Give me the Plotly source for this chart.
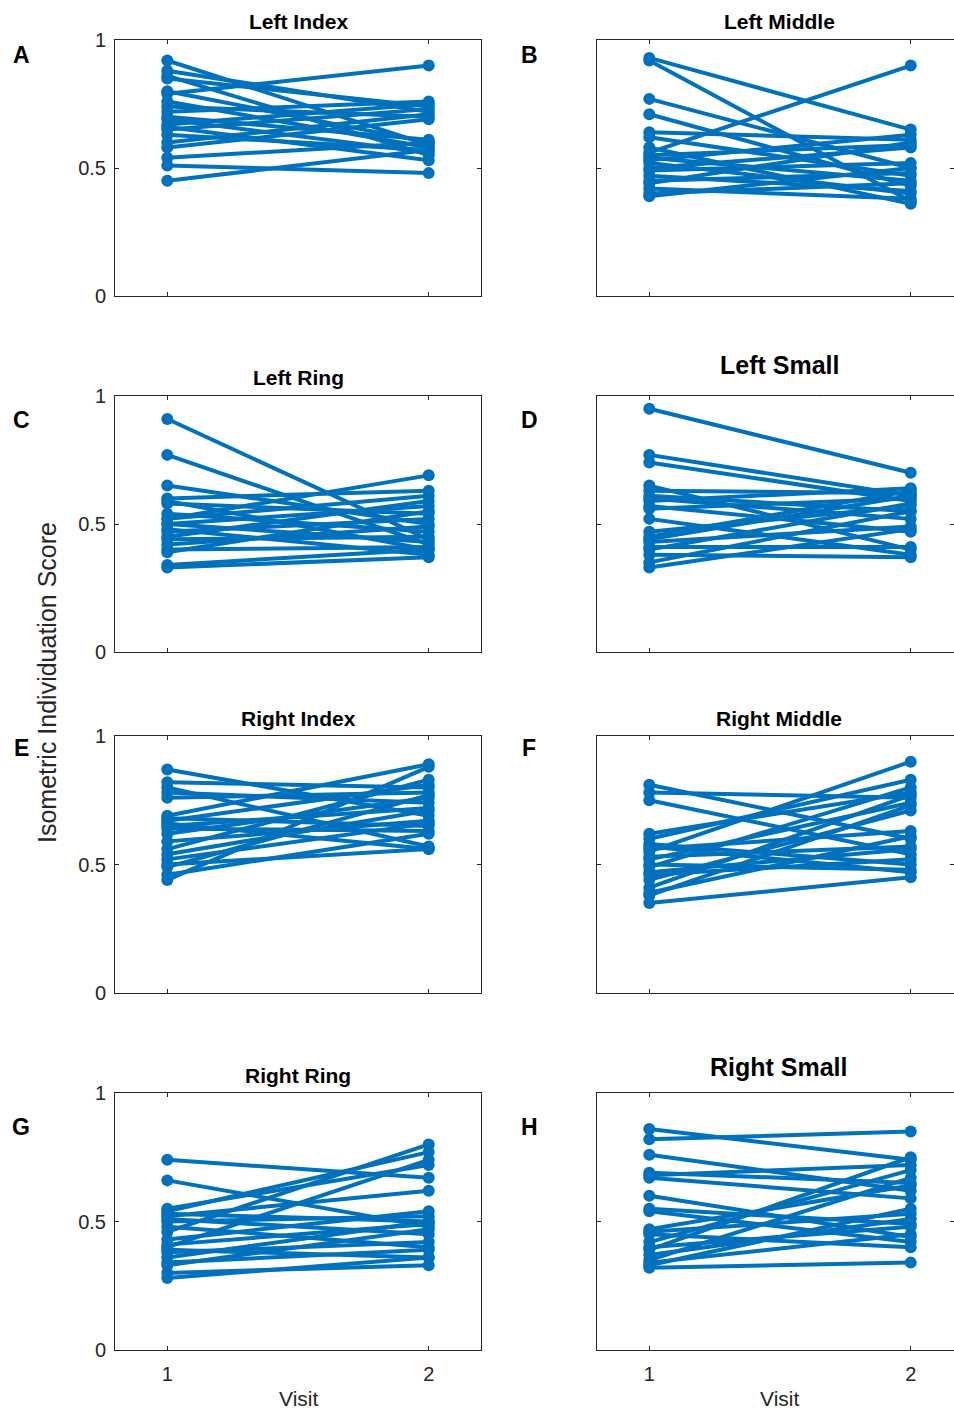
import plotly.graph_objects as go

# Individuation scores per subject: visit 1 and visit 2 values for each finger
visits = [1, 2]

left_index_v1 = [0.92, 0.88, 0.86, 0.85, 0.80, 0.79, 0.76, 0.74, 0.72, 0.70,
                 0.69, 0.67, 0.66, 0.65, 0.63, 0.60, 0.58, 0.54, 0.51, 0.45]
left_index_v2 = [0.59, 0.72, 0.55, 0.74, 0.60, 0.90, 0.58, 0.70, 0.76, 0.61,
                 0.56, 0.75, 0.53, 0.73, 0.57, 0.71, 0.69, 0.60, 0.48, 0.57]

left_middle_v1 = [0.93, 0.92, 0.77, 0.71, 0.64, 0.62, 0.58, 0.56, 0.55, 0.54,
                  0.53, 0.52, 0.50, 0.49, 0.47, 0.45, 0.44, 0.42, 0.40, 0.39]
left_middle_v2 = [0.65, 0.37, 0.50, 0.43, 0.61, 0.47, 0.36, 0.90, 0.59, 0.45,
                  0.63, 0.40, 0.58, 0.52, 0.41, 0.48, 0.60, 0.38, 0.44, 0.50]

left_ring_v1 = [0.91, 0.77, 0.65, 0.60, 0.59, 0.58, 0.54, 0.52, 0.50, 0.50,
                0.48, 0.47, 0.45, 0.44, 0.42, 0.40, 0.39, 0.52, 0.34, 0.33]
left_ring_v2 = [0.44, 0.42, 0.50, 0.63, 0.40, 0.54, 0.47, 0.61, 0.43, 0.57,
                0.38, 0.52, 0.59, 0.45, 0.49, 0.41, 0.55, 0.69, 0.40, 0.37]

left_small_v1 = [0.95, 0.77, 0.74, 0.65, 0.63, 0.61, 0.59, 0.57, 0.56, 0.52,
                 0.47, 0.45, 0.43, 0.41, 0.40, 0.38, 0.35, 0.33, 0.60, 0.44]
left_small_v2 = [0.70, 0.61, 0.59, 0.40, 0.62, 0.55, 0.64, 0.47, 0.60, 0.38,
                 0.57, 0.63, 0.49, 0.41, 0.58, 0.37, 0.55, 0.48, 0.52, 0.61]

right_index_v1 = [0.87, 0.82, 0.80, 0.78, 0.76, 0.69, 0.68, 0.67, 0.66, 0.65,
                  0.64, 0.62, 0.59, 0.56, 0.54, 0.52, 0.50, 0.49, 0.46, 0.44]
right_index_v2 = [0.69, 0.80, 0.57, 0.74, 0.78, 0.89, 0.65, 0.81, 0.56, 0.72,
                  0.63, 0.76, 0.67, 0.83, 0.71, 0.66, 0.56, 0.77, 0.62, 0.88]

right_middle_v1 = [0.81, 0.78, 0.75, 0.62, 0.60, 0.58, 0.56, 0.55, 0.53, 0.52,
                   0.50, 0.49, 0.47, 0.46, 0.44, 0.41, 0.39, 0.38, 0.35, 0.57]
right_middle_v2 = [0.60, 0.76, 0.54, 0.78, 0.83, 0.50, 0.63, 0.90, 0.57, 0.74,
                   0.48, 0.80, 0.56, 0.52, 0.71, 0.77, 0.61, 0.73, 0.45, 0.47]

right_ring_v1 = [0.74, 0.66, 0.55, 0.54, 0.53, 0.52, 0.51, 0.50, 0.48, 0.46,
                 0.43, 0.41, 0.40, 0.39, 0.38, 0.36, 0.34, 0.33, 0.30, 0.28]
right_ring_v2 = [0.67, 0.48, 0.72, 0.77, 0.50, 0.62, 0.45, 0.52, 0.40, 0.80,
                 0.54, 0.49, 0.74, 0.36, 0.42, 0.50, 0.39, 0.47, 0.33, 0.36]

right_small_v1 = [0.86, 0.82, 0.76, 0.69, 0.68, 0.67, 0.60, 0.55, 0.54, 0.47,
                  0.46, 0.45, 0.42, 0.40, 0.39, 0.37, 0.35, 0.34, 0.33, 0.32]
right_small_v2 = [0.74, 0.85, 0.62, 0.65, 0.72, 0.59, 0.44, 0.49, 0.42, 0.64,
                  0.53, 0.40, 0.70, 0.48, 0.75, 0.51, 0.67, 0.45, 0.55, 0.34]

panel_titles = ["Left Index", "Left Middle", "Left Ring", "Left Small",
                "Right Index", "Right Middle", "Right Ring", "Right Small"]
panel_letters = ["A", "B", "C", "D", "E", "F", "G", "H"]
panel_data = [
    (left_index_v1, left_index_v2), (left_middle_v1, left_middle_v2),
    (left_ring_v1, left_ring_v2), (left_small_v1, left_small_v2),
    (right_index_v1, right_index_v2), (right_middle_v1, right_middle_v2),
    (right_ring_v1, right_ring_v2), (right_small_v1, right_small_v2),
]
y_ticks = [0, 0.5, 1]
y_tick_text = ["0", "0.5", "1"]

W, H = 954, 1413
BLUE = "#0072BD"
INK = "#262626"
FONT = "Liberation Sans, Arial, sans-serif"

# pixel geometry of the panel grid
col_x = [(115, 481), (597, 954)]
col_range = [[0.8, 2.2], [0.8, 0.8 + 1.4 * (954 - 597) / 366]]
col_center = [298, 779]
row_y = [(40, 296), (396, 652), (736, 993), (1093, 1350)]

# title (y pixel, font size) per panel
title_pos = [(22, 21), (22, 21), (378, 21), (365, 25),
             (718, 21), (718, 21), (1075, 21), (1067, 25)]
letter_y = [55, 55, 420, 420, 748, 748, 1127, 1127]
letter_x = [21, 529]


def px(x):
    return x / W


def py(y):
    return 1 - y / H


fig = go.Figure()
layout = dict(
    width=W, height=H,
    margin=dict(l=0, r=0, t=0, b=0, autoexpand=False),
    paper_bgcolor="white", plot_bgcolor="white",
    showlegend=False,
    font=dict(family=FONT, color=INK),
)
annotations = []

for i, (v1, v2) in enumerate(panel_data):
    row, col = divmod(i, 2)
    n = i + 1
    xs, ys = [], []
    for a, b in zip(v1, v2):
        xs += [visits[0], visits[1], None]
        ys += [a, b, None]
    fig.add_trace(go.Scatter(
        x=xs, y=ys, mode="lines+markers",
        line=dict(color=BLUE, width=4),
        marker=dict(color=BLUE, size=12),
        xaxis=f"x{n}", yaxis=f"y{n}", hoverinfo="skip",
    ))
    x0, x1 = col_x[col]
    y0, y1 = row_y[row]
    bottom = row == 3
    layout[f"xaxis{n if n > 1 else ''}"] = dict(
        domain=[px(x0), px(x1)], range=col_range[col], anchor=f"y{n}",
        tickvals=visits, ticktext=["1", "2"] if bottom else ["", ""],
        ticks="inside", ticklen=4, tickcolor=INK, showgrid=False, zeroline=False,
        showline=True, linecolor=INK, linewidth=1, mirror="ticks",
        tickfont=dict(size=20, color=INK, family=FONT), ticklabelstandoff=6,
        automargin=False,
    )
    layout[f"yaxis{n if n > 1 else ''}"] = dict(
        domain=[py(y1), py(y0)], range=[0, 1], anchor=f"x{n}",
        tickvals=y_ticks, ticktext=y_tick_text if col == 0 else ["", "", ""],
        ticks="inside", ticklen=4, tickcolor=INK, showgrid=False, zeroline=False,
        showline=True, linecolor=INK, linewidth=1, mirror="ticks",
        tickfont=dict(size=20, color=INK, family=FONT), ticklabelstandoff=4,
        automargin=False,
    )
    if bottom:
        annotations.append(dict(
            text="Visit", x=px(col_center[col]), y=py(1411),
            xref="paper", yref="paper", showarrow=False,
            xanchor="center", yanchor="bottom", borderpad=0,
            font=dict(size=21, color=INK, family=FONT),
        ))
    ty, tsize = title_pos[i]
    annotations.append(dict(
        text=f"<b>{panel_titles[i]}</b>", x=px(col_center[col]), y=py(ty),
        xref="paper", yref="paper", showarrow=False, xanchor="center", yanchor="middle",
        font=dict(size=tsize, color="black", family=FONT),
    ))
    annotations.append(dict(
        text=f"<b>{panel_letters[i]}</b>", x=px(letter_x[col]), y=py(letter_y[i]),
        xref="paper", yref="paper", showarrow=False, xanchor="center", yanchor="middle",
        font=dict(size=23, color="black", family=FONT),
    ))

annotations.append(dict(
    text="-", x=px(823), y=py(386), xref="paper", yref="paper", showarrow=False,
    font=dict(size=12, color=INK, family=FONT),
))
annotations.append(dict(
    text="Isometric Individuation Score", x=px(47), y=py(683),
    xref="paper", yref="paper", showarrow=False, textangle=-90,
    xanchor="center", yanchor="middle",
    font=dict(size=25, color=INK, family=FONT),
))
layout["annotations"] = annotations
fig.update_layout(**layout)
fig.write_html("out.html")
